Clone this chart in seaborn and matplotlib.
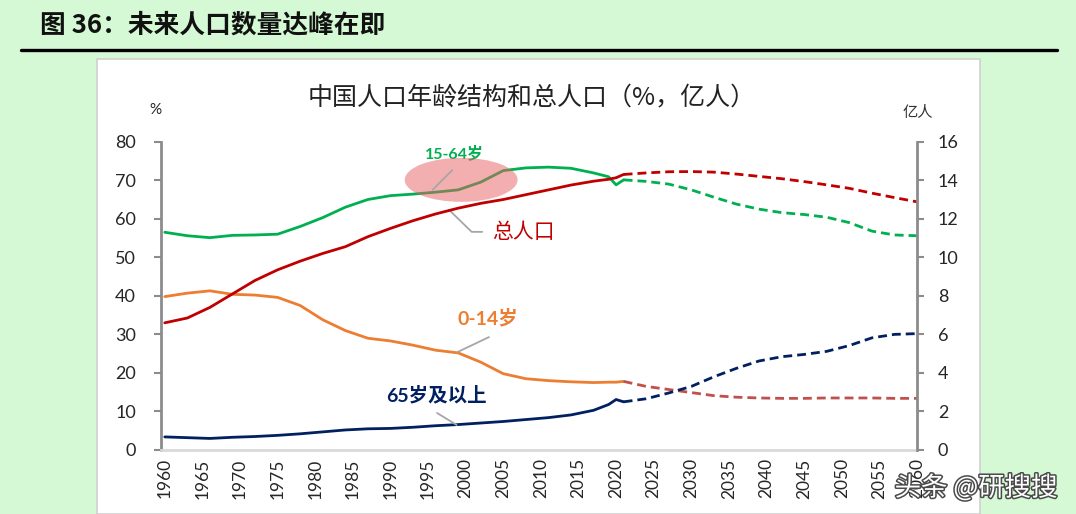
import numpy as np
import pandas as pd
import seaborn as sns
import matplotlib.pyplot as plt
from matplotlib.patches import Ellipse, Rectangle
from matplotlib.lines import Line2D
import matplotlib.patheffects as pe

# historical (solid) values
hist_years = [1960, 1963, 1966, 1969, 1972, 1975, 1978, 1981, 1984, 1987, 1990, 1993,
              1996, 1999, 2002, 2005, 2008, 2011, 2014, 2017, 2019, 2020, 2021]
working_age = [56.5, 55.6, 55.1, 55.7, 55.8, 56.0, 58.0, 60.3, 63.0, 65.0, 66.0, 66.4,
               66.9, 67.5, 69.5, 72.5, 73.2, 73.4, 73.1, 71.9, 70.9, 68.8, 70.1]
children = [39.8, 40.7, 41.3, 40.4, 40.2, 39.6, 37.5, 33.8, 31.0, 29.0, 28.3, 27.2,
            25.9, 25.2, 22.8, 19.8, 18.5, 18.0, 17.7, 17.5, 17.6, 17.6, 17.8]
elderly = [3.4, 3.2, 3.0, 3.3, 3.5, 3.8, 4.2, 4.7, 5.2, 5.5, 5.6, 5.9,
           6.3, 6.6, 7.0, 7.4, 7.9, 8.4, 9.1, 10.3, 11.8, 13.1, 12.5]
total_pop = [6.6, 6.85, 7.4, 8.1, 8.8, 9.35, 9.8, 10.2, 10.55, 11.07, 11.5, 11.9,
             12.25, 12.55, 12.8, 13.0, 13.25, 13.5, 13.75, 13.95, 14.05, 14.13, 14.3]

# projections (dashed)
proj_years = [2021, 2024, 2027, 2030, 2033, 2036, 2039, 2042, 2045, 2048, 2051, 2054, 2057, 2060]
working_age_p = [70.1, 69.7, 69.0, 67.5, 65.6, 63.8, 62.5, 61.6, 61.1, 60.4, 59.0, 56.8, 55.8, 55.6]
children_p = [17.8, 16.5, 15.7, 14.9, 14.1, 13.7, 13.5, 13.4, 13.4, 13.5, 13.5, 13.5, 13.4, 13.4]
elderly_p = [12.5, 13.3, 14.8, 16.5, 19.0, 21.2, 23.1, 24.2, 24.8, 25.6, 27.1, 29.1, 30.0, 30.2]
total_pop_p = [14.3, 14.38, 14.44, 14.45, 14.42, 14.32, 14.2, 14.08, 13.93, 13.76, 13.58, 13.33, 13.1, 12.88]

left_ticks = list(range(0, 81, 10))
right_ticks = list(range(0, 17, 2))
year_ticks = list(range(1960, 2061, 5))

hist = pd.DataFrame({'year': hist_years, 'w': working_age, 'c': children,
                     'e': elderly, 't': total_pop})
proj = pd.DataFrame({'year': proj_years, 'w': working_age_p, 'c': children_p,
                     'e': elderly_p, 't': total_pop_p})

sns.set_theme(style='white')
plt.rcParams['font.family'] = ['Lato', 'Noto Sans CJK SC', 'DejaVu Sans']
cjk = ['Noto Sans CJK SC', 'DejaVu Sans']

GREEN, RED, ORANGE, NAVY, BROWN = '#00B050', '#C00000', '#ED7D31', '#002060', '#C0504D'
AXGREY = '#8C8C8C'
DASH = (0, (3.2, 1.8))

fig = plt.figure(figsize=(10.76, 5.14), dpi=100)
fig.patch.set_facecolor('#D4F9D4')

# white chart panel behind the axes
fig.patches.append(Rectangle((97 / 1076, 0), (980 - 97) / 1076, 455 / 514,
                             transform=fig.transFigure, facecolor='white',
                             edgecolor='#D0D0D0', lw=1.2, zorder=-10))
fig.lines.append(Line2D([21 / 1076, 1057 / 1076], [0.9027, 0.9027],
                        transform=fig.transFigure, color='black', lw=2.4, zorder=-5))
fig.text(40 / 1076, 0.951, '图 36：未来人口数量达峰在即', family=cjk, fontsize=18.5,
         fontweight='bold', va='center', ha='left', color='#111111')

ax = fig.add_axes([161 / 1076, 64 / 514, (917 - 161) / 1076, (450 - 141.7) / 514])
ax.patch.set_alpha(0)
ax2 = ax.twinx()
ax2.patch.set_alpha(0)

lw = 2.0
sns.lineplot(data=hist, x='year', y='w', ax=ax, color=GREEN, lw=lw)
sns.lineplot(data=hist, x='year', y='c', ax=ax, color=ORANGE, lw=lw)
sns.lineplot(data=hist, x='year', y='e', ax=ax, color=NAVY, lw=lw)
sns.lineplot(data=proj, x='year', y='w', ax=ax, color=GREEN, lw=lw, linestyle=DASH)
sns.lineplot(data=proj, x='year', y='c', ax=ax, color=BROWN, lw=lw, linestyle=DASH)
sns.lineplot(data=proj, x='year', y='e', ax=ax, color=NAVY, lw=lw, linestyle=DASH)
sns.lineplot(data=hist, x='year', y='t', ax=ax2, color=RED, lw=lw)
sns.lineplot(data=proj, x='year', y='t', ax=ax2, color=RED, lw=lw, linestyle=DASH)

ax.set_xlim(1959.5, 2059.8)
ax.set_ylim(0, 80)
ax2.set_ylim(0, 16)
ax.set_yticks(left_ticks)
ax2.set_yticks(right_ticks)
ax.set_xticks(year_ticks)
ax.set_xticklabels([str(y) for y in year_ticks], rotation=90, fontsize=12.5)
ax.tick_params(axis='y', labelsize=13, length=5, width=1.5, color=AXGREY, pad=13,
               direction='out', left=True)
ax2.tick_params(axis='y', labelsize=13, length=5, width=1.5, color=AXGREY, pad=10,
                direction='out', right=True)
ax.tick_params(axis='x', length=0, pad=6)
for a in (ax, ax2):
    a.set_xlabel('')
    a.set_ylabel('')
    a.grid(False)
    for s in a.spines.values():
        s.set_visible(False)
ax.spines['left'].set_visible(True)
ax.spines['left'].set_color(AXGREY)
ax.spines['left'].set_linewidth(2)
ax2.spines['right'].set_visible(True)
ax2.spines['right'].set_color(AXGREY)
ax2.spines['right'].set_linewidth(2)
ax.spines['bottom'].set_visible(True)
ax.spines['bottom'].set_color('#D9D9D9')
ax.spines['bottom'].set_linewidth(2)

# highlight ellipse
ax.add_patch(Ellipse((1999.4, 70.1), 15.0, 11.4, facecolor='#E86060', alpha=0.5,
                     edgecolor='none', zorder=5))

lead = dict(color='#A6A6A6', lw=1.3)
ax.plot([1998.2, 1995.6], [72.6, 67.5], zorder=6, **lead)
ax.plot([1997.8, 2000.8, 2002.2], [62.3, 56.6, 56.6], **lead)
ax.plot([2003.1, 1998.9], [29.3, 25.4], **lead)
ax.plot([1996.2, 1998.8], [9.6, 6.5], **lead)

ax.text(1998.5, 77.1, '15-64岁', color=GREEN, fontsize=11.5, fontweight='bold',
        ha='center', va='center')
ax.text(2003.5, 56.6, '总人口', color=RED, fontsize=15, family=cjk, ha='left',
        va='center')
ax.text(2003.0, 34.2, '0-14岁', color=ORANGE, fontsize=14, fontweight='bold',
        ha='center', va='center')
ax.text(1996.1, 14.3, '65岁及以上', color=NAVY, fontsize=14, fontweight='bold',
        ha='center', va='center')

fig.text(532 / 1076, 1 - 97 / 514, '中国人口年龄结构和总人口（%，亿人）', family=cjk,
         fontsize=18, ha='center', va='center', color='#222222')
fig.text(155 / 1076, 1 - 110 / 514, '%', fontsize=11, ha='center', va='center',
         color='#222222')
fig.text(918 / 1076, 1 - 112 / 514, '亿人', family=cjk, fontsize=11, ha='center',
         va='center', color='#333333')

fig.text(976 / 1076, 1 - 488 / 514, '头条 @研搜搜', family=cjk, fontsize=19,
         ha='center', va='center', color='white',
         path_effects=[pe.withStroke(linewidth=2.2, foreground='#4A4A4A')])

fig.savefig('out.png', dpi=100, facecolor=fig.get_facecolor())
